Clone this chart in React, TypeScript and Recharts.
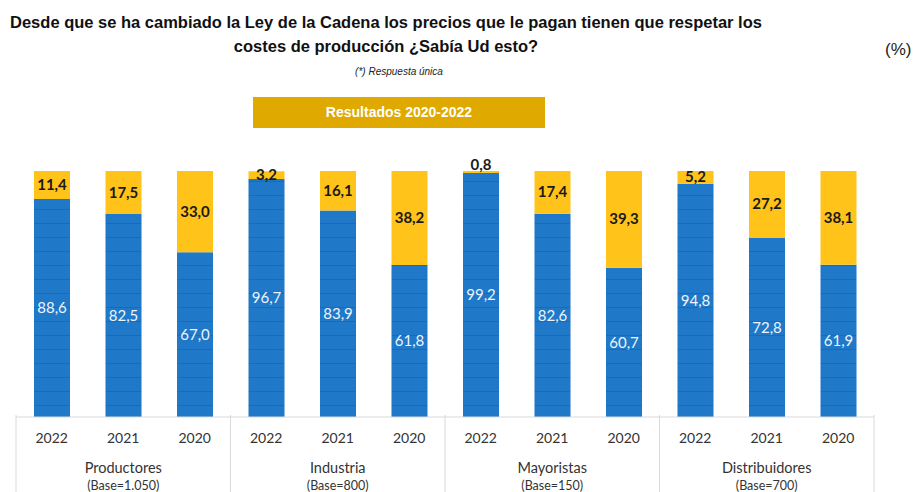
import React from "react";
import { BarChart, Bar, XAxis, YAxis, LabelList } from "recharts";

const years = ["2022", "2021", "2020", "2022", "2021", "2020", "2022", "2021", "2020", "2022", "2021", "2020"];
const groups = ["Productores", "Industria", "Mayoristas", "Distribuidores"];
const bases = ["(Base=1.050)", "(Base=800)", "(Base=150)", "(Base=700)"];
const siValues = [88.6, 82.5, 67.0, 96.7, 83.9, 61.8, 99.2, 82.6, 60.7, 94.8, 72.8, 61.9];
const noValues = [11.4, 17.5, 33.0, 3.2, 16.1, 38.2, 0.8, 17.4, 39.3, 5.2, 27.2, 38.1];

const data = years.map((year, i) => ({
  year,
  si: siValues[i],
  no: noValues[i],
}));

const BLUE = "#1f78c8";
const YELLOW = "#ffc31a";
const GOLD = "#dfa900";
const GRID = "#d9d9d9";
const FONT = "Lato, 'Open Sans', sans-serif";

const fmt = (v: any) => Number(v).toFixed(1).replace(".", ",");

// year under every bar, group name + base under the middle bar, separators between groups
function AxisTick(props: any) {
  const { x, y, index, payload } = props;
  const half = payload && payload.offset ? payload.offset : 35.8;
  const g = Math.floor(index / 3);
  return (
    <g>
      <text x={x} y={y + 13} dy={5} textAnchor="middle" fontSize={14} fill="#333" fontFamily={FONT}>
        {payload.value}
      </text>
      {index % 3 === 1 && (
        <>
          <text x={x} y={y + 43} dy={5} textAnchor="middle" fontSize={14.5} fill="#333" fontFamily={FONT}>
            {groups[g]}
          </text>
          <text x={x} y={y + 60} dy={5} textAnchor="middle" fontSize={12.5} fill="#333" fontFamily={FONT}>
            {bases[g]}
          </text>
        </>
      )}
      {index % 3 === 0 && (
        <line x1={x - half} x2={x - half} y1={y - 10} y2={y + 80} stroke={GRID} />
      )}
      {index === years.length - 1 && (
        <line x1={x + half} x2={x + half} y1={y - 10} y2={y + 80} stroke={GRID} />
      )}
    </g>
  );
}

function NoLabel(props: any) {
  const { x, y, width, height, value } = props;
  const cy = height < 6 ? y - 6 : y + height / 2;
  return (
    <text
      x={x + width / 2}
      y={cy}
      dy={5}
      textAnchor="middle"
      fontSize={15}
      fontWeight={700}
      fill="#1a1a1a"
      fontFamily={FONT}
    >
      {fmt(value)}
    </text>
  );
}

export default function App() {
  return (
    <div
      style={{
        position: "absolute",
        left: 0,
        top: 0,
        width: 917,
        height: 492,
        background: "#fff",
        fontFamily: "'Liberation Sans', Arial, sans-serif",
        overflow: "hidden",
      }}
    >
      <div
        style={{
          position: "absolute",
          left: -4,
          top: 10,
          width: 780,
          textAlign: "center",
          fontWeight: 700,
          fontSize: 16.5,
          lineHeight: "24px",
          color: "#111",
        }}
      >
        Desde que se ha cambiado la Ley de la Cadena los precios que le pagan tienen que respetar los
        <br />
        costes de producción ¿Sabía Ud esto?
      </div>
      <div style={{ position: "absolute", left: 885, top: 40, fontSize: 17, color: "#222" }}>(%)</div>
      <div
        style={{
          position: "absolute",
          left: 300,
          top: 66,
          width: 198,
          textAlign: "center",
          fontSize: 10,
          fontStyle: "italic",
          color: "#222",
        }}
      >
        (*) Respuesta única
      </div>
      <div
        style={{
          position: "absolute",
          left: 253,
          top: 97,
          width: 292,
          height: 31,
          background: GOLD,
          color: "#fff",
          fontWeight: 700,
          fontSize: 14,
          lineHeight: "31px",
          textAlign: "center",
        }}
      >
        Resultados 2020-2022
      </div>

      <div style={{ position: "absolute", left: 0, top: 0 }}>
        <BarChart
          width={917}
          height={492}
          data={data}
          margin={{ top: 171, right: 43, left: 16, bottom: 0 }}
          barSize={36}
        >
          <defs>
            <pattern id="blueStripes" width="8" height="14" patternUnits="userSpaceOnUse">
              <rect width="8" height="14" fill={BLUE} />
              <rect y="13" width="8" height="1" fill="#1a6ab4" />
            </pattern>
          </defs>
          <XAxis
            dataKey="year"
            axisLine={{ stroke: GRID }}
            tickLine={false}
            interval={0}
            height={75}
            tick={<AxisTick />}
          />
          <YAxis hide domain={[0, 100]} />
          <Bar dataKey="si" stackId="a" fill="url(#blueStripes)" isAnimationActive={false}>
            <LabelList
              dataKey="si"
              position="center"
              formatter={fmt}
              fill="#eef4fb"
              fontSize={15}
              fontFamily={FONT}
            />
          </Bar>
          <Bar dataKey="no" stackId="a" fill={YELLOW} isAnimationActive={false}>
            <LabelList dataKey="no" content={<NoLabel />} />
          </Bar>
        </BarChart>
      </div>
    </div>
  );
}
